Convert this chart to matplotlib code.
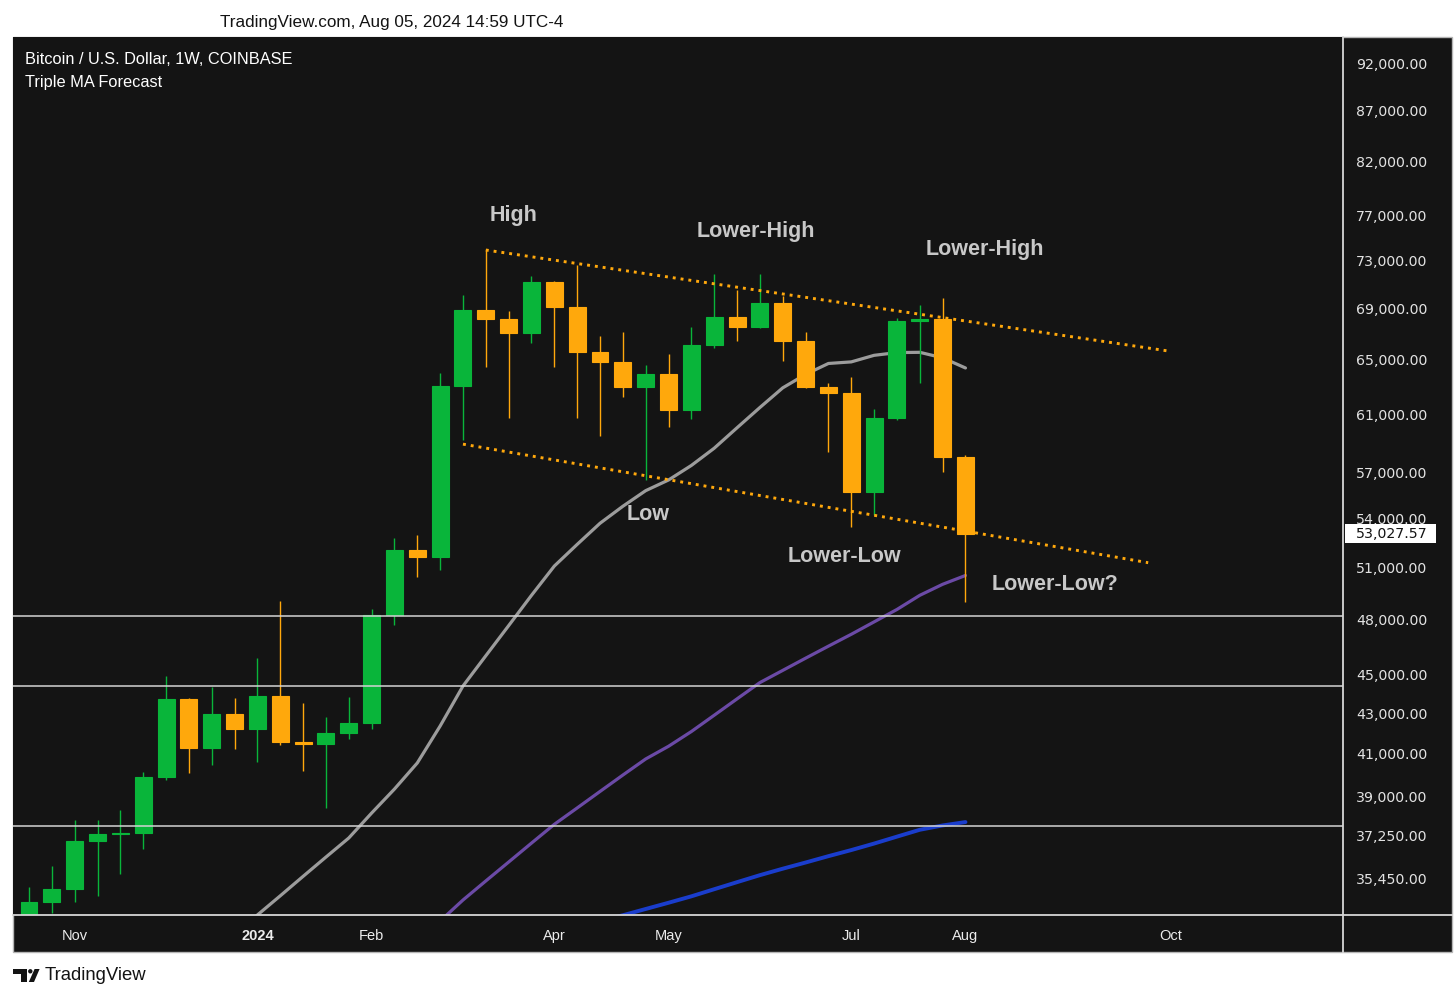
import numpy as np
import pandas as pd
import matplotlib
matplotlib.use("Agg")
import matplotlib.pyplot as plt
import matplotlib.dates as mdates
import matplotlib.transforms as mtransforms
from matplotlib.lines import Line2D
from matplotlib.patches import Rectangle, Polygon, Circle
from matplotlib.ticker import FixedLocator, FixedFormatter, NullLocator

# weekly BTC/USD candles (Coinbase)
opens = [29990, 34480, 35000, 37020, 37310, 37380, 39910, 43720, 41270, 42950,
         42190, 43860, 41580, 41470, 41990, 42510, 48230, 52040, 51630, 63070,
         68910, 68190, 67050, 71180, 69180, 65630, 64820, 62990, 63910, 61300,
         66140, 68350, 67580, 69500, 66480, 63000, 62510, 55710, 60700, 68050,
         68190, 58000]
highs = [35090, 35950, 37940, 37940, 38390, 40150, 44900, 43760, 44340, 43760,
         45840, 49020, 43490, 42780, 43810, 48550, 52790, 52940, 63990, 70130,
         73920, 68830, 71710, 71250, 72630, 66840, 67160, 64610, 65450, 67530,
         71850, 70540, 71850, 70050, 67160, 63240, 63690, 61350, 68230, 69310,
         69860, 58150]
lows = [29850, 34010, 34480, 34720, 35600, 36660, 39760, 40100, 40450, 41240,
        40590, 41400, 40190, 38460, 41710, 42190, 47670, 50430, 50830, 59180,
        64440, 60700, 66270, 64440, 60750, 59480, 62260, 56480, 60070, 60630,
        65930, 66480, 67450, 64910, 62900, 58340, 53440, 54210, 60600, 63290,
        57030, 48980]
closes = [34480, 35000, 37020, 37310, 37380, 39910, 43720, 41270, 42950, 42190,
          43860, 41580, 41470, 41990, 42510, 48230, 52040, 51630, 63070, 68910,
          68190, 67050, 71180, 69180, 65630, 64820, 62990, 63910, 61300, 66140,
          68350, 67580, 69500, 66480, 62990, 62510, 55710, 60700, 68050, 68190,
          58000, 53027.57]
weeks = pd.date_range("2023-10-23", periods=len(opens), freq="7D")

# "Triple MA Forecast" lines, values at the last weeks of the range
gray_ma = [33200, 33950, 34720, 35520, 36330, 37150, 38250, 39340, 40560, 42350,
           44380, 45980, 47630, 49350, 51070, 52380, 53690, 54770, 55780, 56480,
           57450, 58620, 60040, 61480, 62910, 63910, 64730, 64850, 65350, 65560,
           65580, 65160, 64390]
purple_ma = [33710, 34550, 35330, 36120, 36930, 37750, 38480, 39230, 39990, 40750,
             41360, 42080, 42890, 43720, 44560, 45200, 45850, 46500, 47150, 47840,
             48540, 49350, 49990, 50510]
blue_ma = [33710, 33940, 34190, 34440, 34700, 34990, 35280, 35570, 35840, 36100,
           36370, 36630, 36910, 37210, 37510, 37700, 37850]

# drawn channel and horizontal levels
upper_trend_dates = ["2024-03-11", "2024-10-07"]
upper_trend_prices = [73920, 65650]
lower_trend_dates = ["2024-03-04", "2024-09-30"]
lower_trend_prices = [58900, 51270]
level_prices = [48170, 44380, 37660]

price_ticks = [92000, 87000, 82000, 77000, 73000, 69000, 65000, 61000, 57000,
               54000, 51000, 48000, 45000, 43000, 41000, 39000, 37250, 35450]
month_ticks = ["2023-11-06", "2024-01-01", "2024-02-05", "2024-04-01",
               "2024-05-06", "2024-07-01", "2024-08-05", "2024-10-07"]
month_labels = ["Nov", "2024", "Feb", "Apr", "May", "Jul", "Aug", "Oct"]
last_price = 53027.57

swing_labels = ["High", "Lower-High", "Lower-High", "Low", "Lower-Low", "Lower-Low?"]
swing_pos = [(514, 216), (756, 232), (985, 250), (648, 515), (844, 556), (1055, 585)]

W, H = 1456, 1000
BG = "#141414"
GREEN = "#09b53a"
ORANGE = "#ffa80c"
SANS = ["Liberation Sans", "DejaVu Sans"]


def fx(px):
    return px / W


def fy(py):
    return 1 - py / H


fig = plt.figure(figsize=(W / 100, H / 100), dpi=100, facecolor="white")

# dark panel behind chart + axes strips
fig.patches.append(Rectangle((fx(13), fy(952)), fx(1452) - fx(13), fy(37) - fy(952),
                             transform=fig.transFigure, facecolor=BG,
                             edgecolor="#b5b5b5", lw=1.0, zorder=-5))

ax = fig.add_axes([fx(13), fy(915), fx(1343) - fx(13), fy(37) - fy(915)])
ax.set_zorder(1)
ax.set_facecolor(BG)
ax.set_yscale("log")

x = mdates.date2num(weeks)
o = np.array(opens)
c = np.array(closes)
up = c >= o
colors = np.where(up, GREEN, ORANGE)
body_w = 5.2

ax.vlines(x, lows, highs, colors=colors, lw=1.0, zorder=3)
ax.bar(x, np.abs(c - o), bottom=np.minimum(o, c), width=body_w,
       color=colors, edgecolor=colors, lw=0.8, zorder=4)

# moving averages
ax.plot(x[-len(gray_ma):], gray_ma, color="#9c9c9c", lw=2.3, zorder=2,
        solid_capstyle="round")
ax.plot(x[-len(purple_ma):], purple_ma, color="#6b4aa6", lw=2.3, zorder=2,
        solid_capstyle="round")
ax.plot(x[-len(blue_ma):], blue_ma, color="#1a3dcc", lw=2.8, zorder=2,
        solid_capstyle="round")

# channel (dotted)
for dts, prs in [(upper_trend_dates, upper_trend_prices),
                 (lower_trend_dates, lower_trend_prices)]:
    ax.plot(mdates.date2num(pd.to_datetime(dts)), prs, color=ORANGE, lw=2.1,
            linestyle=(0, (1, 1.7)), dash_capstyle="butt", zorder=5)

for p in level_prices:
    ax.axhline(p, color="#d4d4d4", lw=1.1, zorder=6)

x0 = x[0] - 4.9
ax.set_xlim(x0, x[0] + 402.7)
ax.set_ylim(33950, 94843)

ax.yaxis.tick_right()
ax.yaxis.set_major_locator(FixedLocator(price_ticks))
ax.yaxis.set_major_formatter(FixedFormatter([f"{t:,.2f}" for t in price_ticks]))
ax.yaxis.set_minor_locator(NullLocator())
ax.tick_params(axis="y", length=0, pad=9.5, labelcolor="#e2e2e2", labelsize=10.2)

ax.set_xticks(mdates.date2num(pd.to_datetime(month_ticks)))
ax.set_xticklabels(month_labels, family=SANS)
ax.tick_params(axis="x", length=0, pad=18, labelcolor="#ececec", labelsize=10.5)
for lbl in ax.get_xticklabels():
    lbl.set_verticalalignment("baseline")
    if lbl.get_text() == "2024":
        lbl.set_fontweight("bold")

for s in ax.spines.values():
    s.set_visible(False)

# separators of the price and time strips
fig.add_artist(Line2D([fx(1343), fx(1343)], [fy(37), fy(952)], color="#d6d6d6", lw=1.3, zorder=3))
fig.add_artist(Line2D([fx(13), fx(1452)], [fy(915), fy(915)], color="#d6d6d6", lw=1.3, zorder=3))

# last price tag
blend = mtransforms.blended_transform_factory(fig.transFigure, ax.transData)
tag_half = np.exp(9.5 / 854.6)
ax.add_patch(Rectangle((fx(1345), last_price / tag_half), fx(1436) - fx(1345),
                       last_price * tag_half - last_price / tag_half,
                       transform=blend, fc="white", ec="none", zorder=9, clip_on=False))
ax.text(fx(1356), last_price, f"{last_price:,.2f}", transform=blend, ha="left",
        va="center", fontsize=10.2, color="#131313", zorder=10, clip_on=False)

# swing annotations
for txt, (px, py) in zip(swing_labels, swing_pos):
    fig.text(fx(px), fy(py), txt, ha="center", va="center", fontsize=15.5,
             fontweight="bold", color="#c8c8c8", family=SANS, zorder=5)

fig.text(fx(25), fy(60), "Bitcoin / U.S. Dollar, 1W, COINBASE", ha="left", va="center",
         fontsize=11.8, color="white", family=SANS, zorder=5)
fig.text(fx(25), fy(83), "Triple MA Forecast", ha="left", va="center",
         fontsize=11.8, color="white", family=SANS, zorder=5)

fig.text(fx(220), fy(23), "TradingView.com, Aug 05, 2024 14:59 UTC-4", ha="left",
         va="center", fontsize=12.3, color="#131313", family=SANS)

# TradingView logo (rough shapes, pixel coords)
def inch(px, py):
    return (px / 100, (H - py) / 100)

logo = fig.dpi_scale_trans
fig.patches.append(Polygon([inch(13.3, 969), inch(26.7, 969), inch(26.7, 982),
                            inch(20.7, 982), inch(20.7, 974), inch(13.3, 974)],
                           closed=True, transform=logo, fc="#131313", ec="none"))
fig.patches.append(Circle(inch(30.3, 971.3), 0.022, transform=logo, fc="#131313", ec="none"))
fig.patches.append(Polygon([inch(34.6, 969), inch(39.6, 969), inch(34.0, 982), inch(28.8, 982)],
                           closed=True, transform=logo, fc="#131313", ec="none"))
fig.text(fx(45), fy(976), "TradingView", ha="left", va="center", fontsize=13.3,
         color="#131313", family=SANS)

fig.savefig("out.png", dpi=100, facecolor="white")
